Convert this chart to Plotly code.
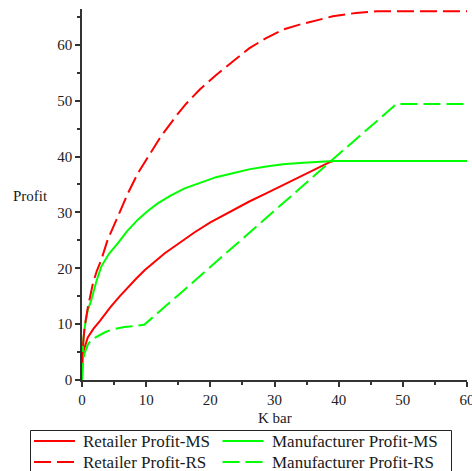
import plotly.graph_objects as go

# K bar values and profits for each channel structure
k_retailer_ms = [0, 0.4, 0.9, 1.8, 2.8, 4.4, 5.9, 7.2, 8.5, 9.8, 11.3, 12.9, 14.9, 17.5, 20.0,
                 23.5, 26.0, 28.7, 31.3, 33.9, 36.2, 38.6, 39.2, 60]
retailer_ms = [3.9, 5.8, 7.6, 9.2, 10.6, 13.0, 15.0, 16.7, 18.2, 19.7, 21.2, 22.7, 24.3, 26.4, 28.2,
               30.4, 31.9, 33.4, 34.9, 36.4, 37.7, 39.0, 39.2, 39.2]

k_manufacturer_ms = [0, 0.1, 0.2, 0.5, 0.9, 1.45, 2.2, 3.0, 4.2, 5.6, 7.0, 8.7, 10.2, 11.8, 13.8,
                     16.0, 18.35, 20.9, 23.5, 26.0, 28.7, 31.3, 33.9, 36.5, 39.1, 60]
manufacturer_ms = [0, 4.0, 7.2, 10.0, 12.5, 14.3, 17.5, 20.3, 22.6, 24.5, 26.6, 28.7, 30.2, 31.6, 33.0,
                   34.3, 35.3, 36.3, 37.0, 37.7, 38.2, 38.6, 38.85, 39.05, 39.2, 39.2]

k_retailer_rs = [0, 0.15, 0.4, 0.93, 1.7, 2.3, 3.0, 4.0, 5.6, 7.15, 8.7, 10.3, 12.3, 14.9, 16.2,
                 18.35, 20.9, 23.5, 26.1, 28.7, 31.3, 33.9, 36.5, 39.1, 42.7, 46.0, 60]
retailer_rs = [2.0, 6.0, 9.5, 13.1, 17.3, 19.5, 21.5, 25.1, 29.3, 33.4, 37.0, 40.0, 43.6, 47.6, 49.4,
               52.0, 54.6, 57.0, 59.4, 61.2, 62.7, 63.6, 64.3, 65.1, 65.7, 66.0, 66.0]

k_manufacturer_rs = [0, 0.15, 0.4, 0.9, 1.45, 2.5, 3.5, 4.6, 6.6, 8.5, 9.7, 14.9, 21.1, 30.0, 39.1, 49.0, 60]
manufacturer_rs = [0, 3.0, 4.8, 6.3, 7.2, 7.9, 8.5, 9.0, 9.5, 9.7, 9.9, 15.1, 21.4, 30.3, 39.5, 49.4, 49.4]

names = ["Retailer Profit-MS", "Manufacturer Profit-MS", "Retailer Profit-RS", "Manufacturer Profit-RS"]
colors = ["#ff0000", "#00ff00", "#ff0000", "#00ff00"]
dashes = ["solid", "solid", "17px,6px", "17px,6px"]
xs_all = [k_retailer_ms, k_manufacturer_ms, k_retailer_rs, k_manufacturer_rs]
ys_all = [retailer_ms, manufacturer_ms, retailer_rs, manufacturer_rs]

SERIF = "Liberation Serif"
AXIS_COLOR = "#333333"
TEXT_COLOR = "#1a1a1a"

fig = go.Figure()
for name, xs, ys, color, dash in zip(names, xs_all, ys_all, colors, dashes):
    fig.add_trace(go.Scatter(
        x=xs, y=ys, mode="lines", name=name, showlegend=False,
        line=dict(color=color, width=2, dash=dash),
    ))

axis_common = dict(
    showgrid=False, zeroline=False, showline=True, automargin=False,
    linecolor=AXIS_COLOR, linewidth=1.5,
    ticks="outside", ticklen=5, tickwidth=1.5, tickcolor=AXIS_COLOR,
    tickfont=dict(family=SERIF, size=15, color="#222222"),
    ticklabeloverflow="allow",
    minor=dict(ticks="outside", dtick=5, ticklen=3, tickwidth=1.5, tickcolor=AXIS_COLOR),
)
fig.update_xaxes(range=[0, 60], dtick=10, tick0=0, **axis_common)
fig.update_yaxes(range=[0, 66.4], dtick=10, tick0=0, **axis_common)

# Plot area in pixels, used to place the legend box below the axes
L, R, T, B, W, H = 82, 5, 9, 91, 472, 471
PW, PH = W - L - R, H - T - B


def px_x(x):
    return (x - L) / PW


def px_y(y):
    return (H - B - y) / PH


fig.add_annotation(text="K bar", xref="paper", yref="paper", x=px_x(275), y=px_y(408),
                   xanchor="center", yanchor="top", showarrow=False,
                   font=dict(family=SERIF, size=15, color=TEXT_COLOR))
fig.add_annotation(text="Profit", xref="paper", yref="paper", x=px_x(50), y=px_y(196),
                   xanchor="right", yanchor="middle", showarrow=False,
                   font=dict(family=SERIF, size=15, color=TEXT_COLOR))

# Legend: two columns, two rows, framed
fig.add_shape(type="rect", xref="paper", yref="paper",
              x0=px_x(30.5), x1=px_x(451.5), y0=px_y(430.5), y1=px_y(476),
              line=dict(color="#222222", width=1), fillcolor="white", layer="above")
col_x = [34, 222.5]
row_y = [441, 462]
for i, (name, color, dash) in enumerate(zip(names, colors, dashes)):
    cx = col_x[i % 2]
    ry = row_y[i // 2]
    fig.add_shape(type="line", xref="paper", yref="paper",
                  x0=px_x(cx), x1=px_x(cx + 41), y0=px_y(ry), y1=px_y(ry),
                  line=dict(color=color, width=2, dash=dash), layer="above")
    fig.add_annotation(text=name, xref="paper", yref="paper", x=px_x(cx + 47), y=px_y(ry),
                       xanchor="left", yanchor="middle", showarrow=False,
                       font=dict(family=SERIF, size=17, color=TEXT_COLOR))

fig.update_layout(
    width=W, height=H,
    margin=dict(l=L, r=R, t=T, b=B),
    paper_bgcolor="white", plot_bgcolor="white",
    showlegend=False,
)

fig.write_html("out.html")
